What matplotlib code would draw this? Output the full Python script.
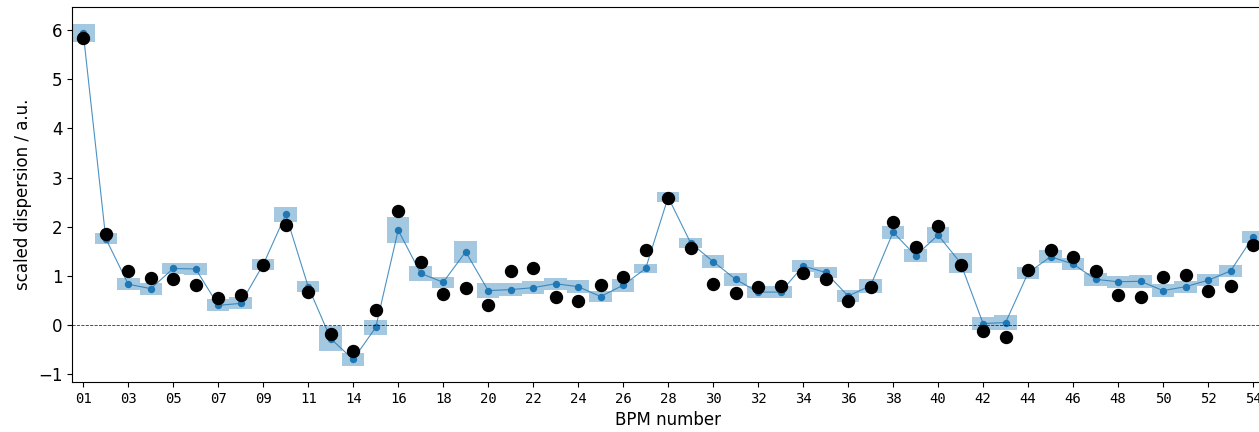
import matplotlib
matplotlib.use("Agg")
import matplotlib.pyplot as plt
import numpy as np

bpm_labels = ["01", "02", "03", "04", "05", "06", "07", "08", "09", "10", "11",
              "13", "14", "15", "16", "17", "18", "19", "20", "21", "22", "23",
              "24", "25", "26", "27", "28", "29", "30", "31", "32", "33", "34",
              "35", "36", "37", "38", "39", "40", "41", "42", "43", "44", "45",
              "46", "47", "48", "49", "50", "51", "52", "53", "54"]

model = [5.94, 1.76, 0.83, 0.74, 1.15, 1.14, 0.40, 0.44, 1.23, 2.25, 0.78,
         -0.28, -0.70, -0.05, 1.93, 1.05, 0.87, 1.49, 0.70, 0.72, 0.76, 0.84,
         0.78, 0.58, 0.81, 1.15, 2.60, 1.67, 1.29, 0.93, 0.67, 0.67, 1.20,
         1.07, 0.59, 0.80, 1.89, 1.41, 1.83, 1.26, 0.03, 0.05, 1.06, 1.39,
         1.24, 0.93, 0.88, 0.89, 0.70, 0.78, 0.91, 1.10, 1.79]

model_err = [0.19, 0.12, 0.12, 0.12, 0.12, 0.12, 0.12, 0.12, 0.12, 0.15, 0.11,
             0.25, 0.13, 0.15, 0.27, 0.15, 0.11, 0.22, 0.15, 0.13, 0.13, 0.12,
             0.13, 0.12, 0.13, 0.10, 0.10, 0.11, 0.13, 0.13, 0.12, 0.12, 0.12,
             0.11, 0.12, 0.14, 0.13, 0.13, 0.16, 0.20, 0.14, 0.16, 0.13, 0.13,
             0.13, 0.13, 0.12, 0.13, 0.13, 0.12, 0.12, 0.13, 0.12]

measured = [5.85, 1.85, 1.09, 0.95, 0.93, 0.81, 0.54, 0.61, 1.22, 2.04, 0.68,
            -0.19, -0.53, 0.31, 2.33, 1.29, 0.63, 0.75, 0.40, 1.10, 1.15, 0.56,
            0.49, 0.82, 0.98, 1.52, 2.59, 1.57, 0.84, 0.66, 0.78, 0.80, 1.05,
            0.93, 0.49, 0.78, 2.10, 1.58, 2.01, 1.22, -0.12, -0.24, 1.12, 1.52,
            1.38, 1.09, 0.61, 0.58, 0.98, 1.02, 0.69, 0.79, 1.63]

x = np.arange(len(bpm_labels))
model = np.array(model)
model_err = np.array(model_err)

fig = plt.figure(figsize=(12.59, 4.32), dpi=100)
ax = fig.add_axes([0.0572, 0.1157, 0.947, 0.868])

ax.bar(x, 2 * model_err, bottom=model - model_err, width=1.0,
       color="C0", alpha=0.4, linewidth=0)
ax.plot(x, model, "-", color="C0", lw=0.8, alpha=0.8)
ax.plot(x, model, "o", color="C0", ms=4.3, lw=0)
ax.plot(x, measured, "o", color="black", ms=8.6, lw=0)
ax.axhline(0, color="black", ls="--", lw=0.6, alpha=0.8)

ax.set_xlim(-0.5, len(x) - 0.5)
ax.set_ylim(-1.16, 6.47)
ax.set_xticks(x[::2])
ax.set_xticklabels(bpm_labels[::2], family="DejaVu Sans Mono", fontsize=10)
ax.tick_params(axis="y", labelsize=12)
ax.set_xlabel("BPM number", fontsize=12)
ax.set_ylabel("scaled dispersion / a.u.", fontsize=12)

fig.savefig("out.png", dpi=100)
